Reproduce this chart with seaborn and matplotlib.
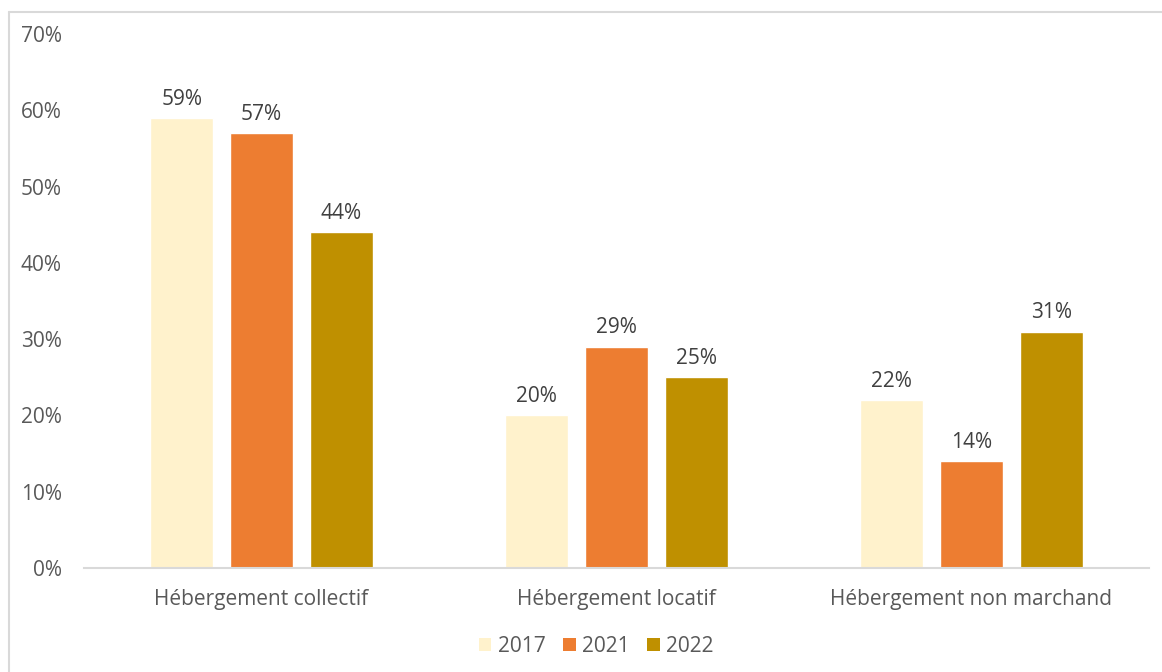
import matplotlib
matplotlib.use("Agg")
import matplotlib.pyplot as plt
from matplotlib.lines import Line2D
import seaborn as sns
import pandas as pd

categories = ["Hébergement collectif", "Hébergement locatif", "Hébergement non marchand"]
years = ["2017", "2021", "2022"]
values_2017 = [59, 20, 22]
values_2021 = [57, 29, 14]
values_2022 = [44, 25, 31]
y_ticks = [0, 10, 20, 30, 40, 50, 60, 70]

colors = ["#FFF2CC", "#ED7D31", "#BF9000"]
text_gray = "#595959"
label_gray = "#404040"
fs = 15

df = pd.DataFrame({
    "categorie": categories * 3,
    "annee": [y for y in years for _ in categories],
    "part": values_2017 + values_2021 + values_2022,
})

sns.set_theme(style="white")
plt.rcParams["font.family"] = ["Open Sans", "DejaVu Sans"]

fig = plt.figure(figsize=(11.62, 6.72), dpi=100)
ax = fig.add_axes([0.0723, 0.1548, 0.9165, 0.7946])

sns.barplot(data=df, x="categorie", y="part", hue="annee", order=categories,
            hue_order=years, palette=colors, width=0.675, gap=0.21,
            saturation=1, ax=ax, legend=False)

for cont in ax.containers:
    ax.bar_label(cont, labels=[f"{v:.0f}%" for v in cont.datavalues],
                 padding=6, fontsize=fs, color=label_gray)

ax.set_ylim(0, 70)
ax.set_xlim(-0.5, 2.5)
ax.set_yticks(y_ticks)
ax.set_yticklabels([f"{t}%" for t in y_ticks])
ax.tick_params(axis="y", length=0, pad=16, labelsize=fs, labelcolor=text_gray)
ax.tick_params(axis="x", length=0, pad=15, labelsize=fs, labelcolor=text_gray)
ax.set_xlabel("")
ax.set_ylabel("")

for side in ["top", "right", "left"]:
    ax.spines[side].set_visible(False)
ax.spines["bottom"].set_color("#D9D9D9")
ax.spines["bottom"].set_linewidth(1.5)

handles = [plt.Rectangle((0, 0), 1, 1, facecolor=c, edgecolor="none") for c in colors]
fig.legend(handles, years, loc="center", bbox_to_anchor=(0.513, 0.038), ncol=3,
           frameon=False, fontsize=fs, labelcolor=text_gray, handlelength=0.6,
           handleheight=0.6, handletextpad=0.3, columnspacing=0.85)

# outer chart frame (left and top edges)
fig.add_artist(Line2D([9 / 1162, 9 / 1162], [0, 1 - 12 / 672],
                      transform=fig.transFigure, color="#D9D9D9", linewidth=1.5))
fig.add_artist(Line2D([9 / 1162, 1], [1 - 12 / 672, 1 - 12 / 672],
                      transform=fig.transFigure, color="#D9D9D9", linewidth=1.5))

fig.savefig("out.png", dpi=100, facecolor="white")
